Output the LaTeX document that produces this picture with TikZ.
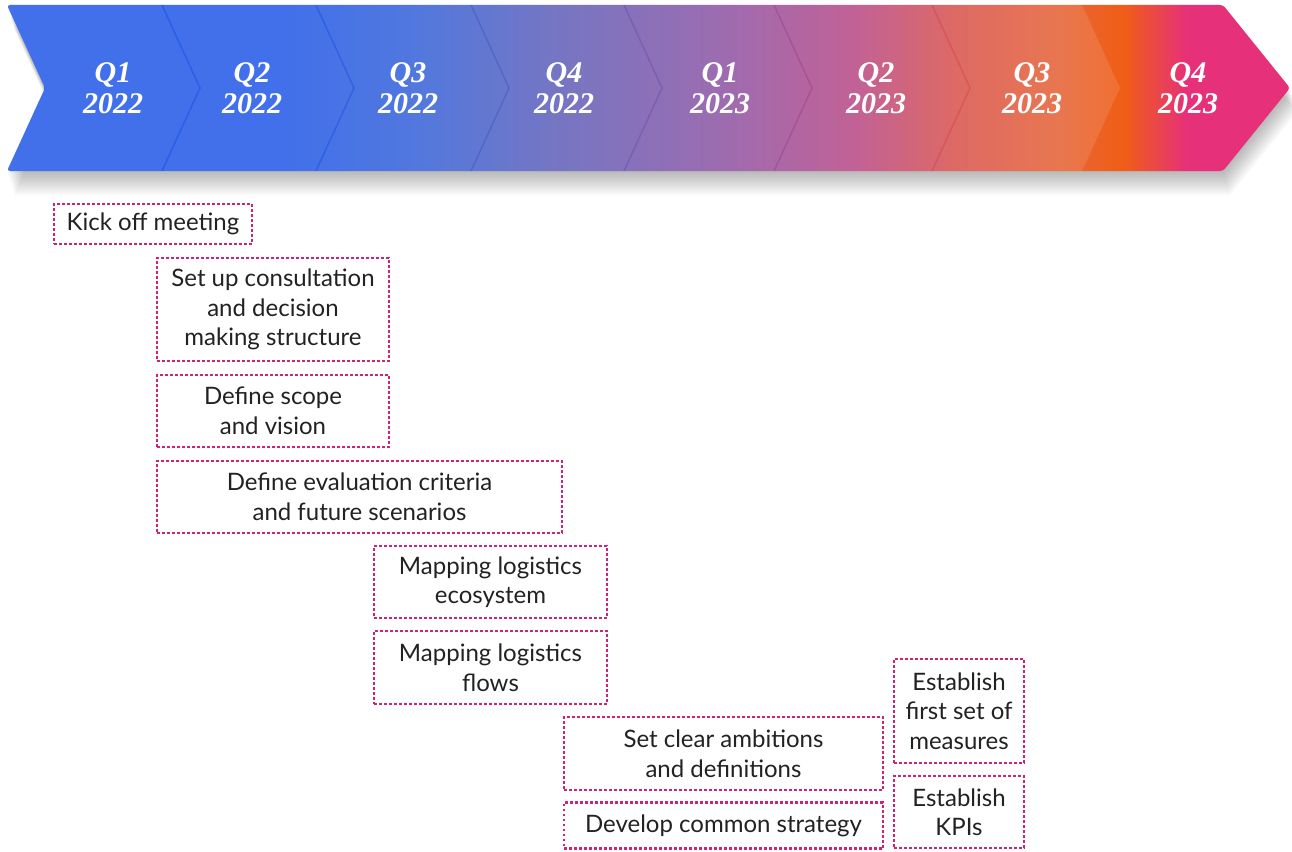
\documentclass[tikz,border=0pt]{standalone}
\usepackage{fontspec}
\setmainfont{Lato}
\newfontfamily\quarterfont{Liberation Serif}
\usetikzlibrary{calc}
\definecolor{taskpink}{HTML}{CC2277}
\definecolor{tasktext}{HTML}{222222}
\definecolor{paintA}{HTML}{2A5FE8}
\definecolor{paintB}{HTML}{3D68DA}
\definecolor{paintC}{HTML}{6266BE}
\definecolor{paintD}{HTML}{925AA6}
\definecolor{paintE}{HTML}{BA4E8A}
\definecolor{paintF}{HTML}{DA5852}
\definecolor{paintG}{HTML}{E6663A}
\definecolor{paintH}{HTML}{F05E16}
\definecolor{paintI}{HTML}{E6307A}
\pgfdeclarehorizontalshading{paint}{100bp}{color(0bp)=(paintA); color(25bp)=(paintA); color(36bp)=(paintA); color(41bp)=(paintB); color(46bp)=(paintC); color(53bp)=(paintD); color(58bp)=(paintE); color(62bp)=(paintF); color(66bp)=(paintG); color(68.5bp)=(paintH); color(71bp)=(paintI); color(75bp)=(paintI); color(100bp)=(paintI)}

\begin{document}
\begin{tikzpicture}[x=1pt,y=-1pt]
	\tikzstyle{bannershape}=[insert path={(7,5) -- (1223,5) -- (1290,88) -- (1223,171) -- (7,171) -- (45,88) -- cycle}]
	\tikzstyle{quarter}=[text=white, align=center, font=\quarterfont\bfseries\itshape\fontsize{30}{31}\selectfont]
	\tikzstyle{task}=[draw=taskpink, line width=2.6pt, dash pattern=on 2.6pt off 2.4pt, text=tasktext, align=center, font=\fontsize{24}{29.5}\selectfont, inner sep=0pt]
	\useasboundingbox[fill=white] (0,0) rectangle (1292,851);
	\foreach \k in {1,...,12}
		\fill[black, opacity=0.022, xshift=0.6*\k pt, yshift=-2*\k pt] [bannershape];
	\shade[shading=paint, rounded corners=3pt] [bannershape];
	\fill[white, opacity=0.11] (7,5) -- (161,5) -- (199,88) -- (161,171) -- (7,171) -- (45,88) -- cycle;
	\foreach \l/\r in {163/315, 317/470, 472/623, 625/773, 775/931, 933/1082}
		\fill[white, opacity=0.11] (\l,5) -- (\r,5) -- (\r+38,88) -- (\r,171) -- (\l,171) -- (\l+38,88) -- cycle;
	\foreach \x/\q/\yr [count=\i] in {113/Q1/2022, 252/Q2/2022, 408/Q3/2022, 564/Q4/2022, 720/Q1/2023, 876/Q2/2023, 1032/Q3/2023, 1188/Q4/2023}
		\node[quarter] (q\i) at (\x,88) {\q\\\yr};
	\node[task, minimum width=198, minimum height=40] (kickoff) at (153,224) {Kick off meeting};
	\node[task, minimum width=232, minimum height=103] (consult) at (273,309.5) {Set up consultation\\and decision\\making structure};
	\node[task, minimum width=232, minimum height=72] (scope) at (273,411) {Define scope\\and vision};
	\node[task, minimum width=405, minimum height=72] (criteria) at (359.5,497) {Define evaluation criteria\\and future scenarios};
	\node[task, minimum width=233, minimum height=72] (ecosystem) at (490.5,582) {Mapping logistics\\ecosystem};
	\node[task, minimum width=233, minimum height=73] (flows) at (490.5,667.5) {Mapping logistics\\flows};
	\node[task, minimum width=319, minimum height=73] (ambitions) at (723.5,753.5) {Set clear ambitions\\and definitions};
	\node[task, minimum width=319, minimum height=46] (strategy) at (723.5,825.5) {Develop common strategy};
	\node[task, minimum width=130, minimum height=104] (measures) at (959,711) {Establish\\first set of\\measures};
	\node[task, minimum width=130, minimum height=72] (kpis) at (959,812) {Establish\\KPIs};
\end{tikzpicture}
\end{document}
